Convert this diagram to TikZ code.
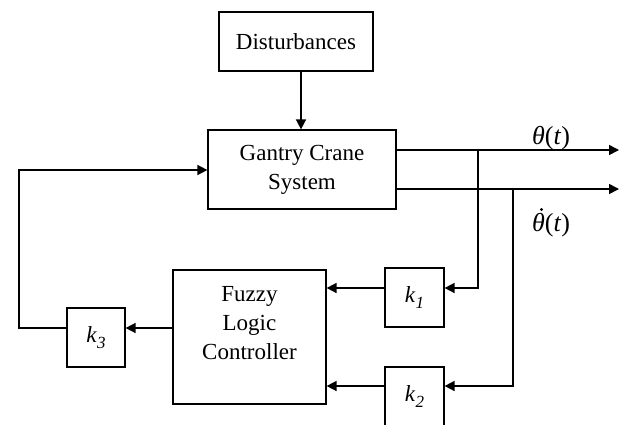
\documentclass[tikz,border=0pt]{standalone}
\usepackage{fontspec}
\setmainfont{Liberation Serif}
\usetikzlibrary{arrows.meta}
\begin{document}
\begin{tikzpicture}[x=1pt,y=-1pt,
  box/.style={draw, line width=1.2pt, inner sep=0pt, align=center,
    font=\fontsize{23}{29}\selectfont},
  lbl/.style={inner sep=0pt, anchor=base, font=\fontsize{26}{30}\selectfont},
  ln/.style={line width=1.5pt},
  arr/.style={line width=1.5pt, -{Triangle[length=10pt,width=10pt]}}]
\useasboundingbox (0,0) rectangle (624,424);
\node[box, minimum width=154pt, minimum height=59pt] (dist) at (296,41.5) {Disturbances};
\node[box, minimum width=188pt, minimum height=79pt] (gantry) at (302,169.5) {Gantry Crane\\System};
\node[box, minimum width=153pt, minimum height=134pt] (fuzzy) at (249.5,337) {Fuzzy\\Logic\\Controller\\\mbox{}};
\node[box, minimum width=59pt, minimum height=59pt] (k1) at (414.5,297.5) {\textit{k}\raisebox{-0.25em}{\fontsize{17}{17}\selectfont\textit{1}}};
\node[box, minimum width=59pt, minimum height=59pt] (k2) at (414.5,396.5) {\textit{k}\raisebox{-0.25em}{\fontsize{17}{17}\selectfont\textit{2}}};
\node[box, minimum width=58pt, minimum height=59pt] (k3) at (96,337.5) {\textit{k}\raisebox{-0.25em}{\fontsize{17}{17}\selectfont\textit{3}}};
\coordinate (dx) at (301,0);
\coordinate (o1) at (619,150);
\coordinate (o2) at (619,189);
\coordinate (b1) at (478,150);
\coordinate (b2) at (513,189);
\coordinate (c1) at (478,288);
\coordinate (c2) at (513,386);
\coordinate (lp1) at (19,328);
\coordinate (lp2) at (19,170);
\node[lbl] (th) at (551,144) {\textit{θ}(\textit{t})};
\node[lbl] (thd) at (551,231) {\textit{θ}(\textit{t})};
\fill ([xshift=-9.5pt,yshift=21.5pt]thd.base) circle[radius=1.7pt];
\draw[arr] (dist.south -| dx) -- (gantry.north -| dx);
\draw[arr] (gantry.east |- o1) -- (o1);
\draw[arr] (gantry.east |- o2) -- (o2);
\draw[arr] (b1) -- (c1) -- (k1.east |- c1);
\draw[arr] (b2) -- (c2) -- (k2.east |- c2);
\draw[arr] (k1.west |- c1) -- (fuzzy.east |- c1);
\draw[arr] (k2.west |- c2) -- (fuzzy.east |- c2);
\draw[arr] (fuzzy.west |- lp1) -- (k3.east |- lp1);
\draw[arr] (k3.west |- lp1) -- (lp1) -- (lp2) -- (gantry.west |- lp2);
\end{tikzpicture}
\end{document}
